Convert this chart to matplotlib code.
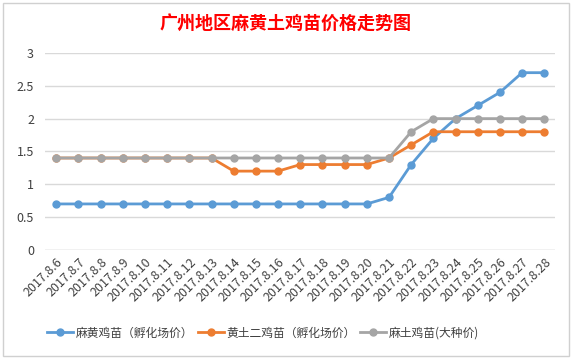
import matplotlib.pyplot as plt
from matplotlib.patches import Rectangle

plt.rcParams['font.family'] = ['Noto Sans CJK SC', 'DejaVu Sans']

# =========================
# DADOS
# =========================
dias = ["2017.8.%d" % d for d in range(6, 29)]

mahuang = [0.7] * 15 + [0.8, 1.3, 1.7, 2.0, 2.2, 2.4, 2.7, 2.7]
huangtu = [1.4] * 8 + [1.2, 1.2, 1.2, 1.3, 1.3, 1.3, 1.3, 1.4, 1.6,
                       1.8, 1.8, 1.8, 1.8, 1.8, 1.8]
matu = [1.4] * 16 + [1.8, 2.0, 2.0, 2.0, 2.0, 2.0, 2.0]

series = [
    ("麻黄鸡苗（孵化场价）", mahuang, "#5B9BD5"),
    ("黄土二鸡苗（孵化场价）", huangtu, "#ED7D31"),
    ("麻土鸡苗(大种价)", matu, "#A5A5A5"),
]

fig = plt.figure(figsize=(5.72, 3.58), dpi=100)
fig.patches.append(Rectangle((0.006, 0.006), 0.988, 0.985, transform=fig.transFigure,
                             fill=False, edgecolor="#D0D0D0", linewidth=1))

ax = fig.add_axes([0.079, 0.302, 0.892, 0.55])
x = range(len(dias))

for nome, vals, cor in series:
    ax.plot(x, vals, color=cor, linewidth=2, marker="o", markersize=5, label=nome)

ax.set_xlim(-0.5, len(dias) - 0.5)
ax.set_ylim(0, 3)
ax.set_yticks([0, 0.5, 1, 1.5, 2, 2.5, 3])
ax.set_yticklabels(["0", "0.5", "1", "1.5", "2", "2.5", "3"])
ax.set_xticks(list(x))
ax.set_xticklabels(dias, rotation=45, ha="right", rotation_mode="anchor")
ax.tick_params(axis="both", length=0, labelsize=9, colors="#404040", pad=8)
ax.tick_params(axis="x", pad=4)
ax.grid(axis="y", color="#D9D9D9", linewidth=1)
ax.set_axisbelow(True)
for s in ax.spines.values():
    s.set_visible(False)
ax.axhline(0, color="#D9D9D9", linewidth=1)

fig.text(0.5, 0.935, "广州地区麻黄土鸡苗价格走势图", ha="center", va="center",
         color="#FF0000", fontsize=13, fontweight="bold")

fig.legend(loc="center", bbox_to_anchor=(0.46, 0.07),
           ncol=3, frameon=False, fontsize=8.5, handlelength=2.2, columnspacing=0.4,
           handletextpad=0.2, labelcolor="#404040")

plt.savefig("out.png", dpi=100)
